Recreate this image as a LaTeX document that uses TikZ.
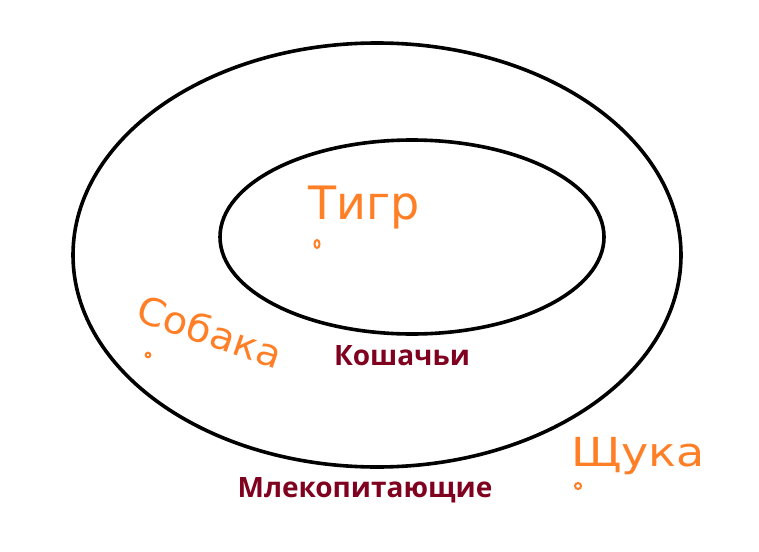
\documentclass[tikz,border=0pt]{standalone}
\usepackage{fontspec}
\setmainfont{Open Sans}
\newfontfamily\handfont{DejaVu Sans}
\definecolor{paintorange}{RGB}{255,127,39}
\definecolor{darkred}{RGB}{128,0,32}
\begin{document}
\begin{tikzpicture}[x=1pt,y=-1pt,
  ring/.style={draw=black,line width=3.6pt},
  hand/.style={text=paintorange,font=\handfont,inner sep=0pt,anchor=center},
  dot/.style={draw=paintorange,line width=2pt},
  group/.style={text=darkred,font=\bfseries,inner sep=0pt}]
\useasboundingbox (0,0) rectangle (759,551);
\fill[white] (0,0) rectangle (759,551);
\draw[ring] (377,255) ellipse [x radius=304,y radius=212];
\draw[ring] (412,237) ellipse [x radius=192,y radius=97];
\node[hand,font=\handfont\fontsize{46}{46}\selectfont] (tigr) at (364,208) {Тигр};
\draw[dot] (317,244) ellipse [x radius=2.5,y radius=4] coordinate (tdot);
\node[hand,font=\handfont\fontsize{38}{38}\selectfont,rotate=-19,xscale=1.05] (sobaka) at (210,331) {Собака};
\draw[dot] (148,355) circle [radius=2.3] coordinate (sdot);
\node[hand,font=\handfont\fontsize{40}{40}\selectfont,xscale=1.15] (shchuka) at (638,456) {Щука};
\draw[dot] (578,486) circle [radius=3] coordinate (shdot);
\node[group,font=\bfseries\fontsize{28}{28}\selectfont] (kosh) at (402,356) {Кошачьи};
\node[group,font=\bfseries\fontsize{28}{28}\selectfont] (mlek) at (365,490) {Млекопитающие};
\end{tikzpicture}
\end{document}
